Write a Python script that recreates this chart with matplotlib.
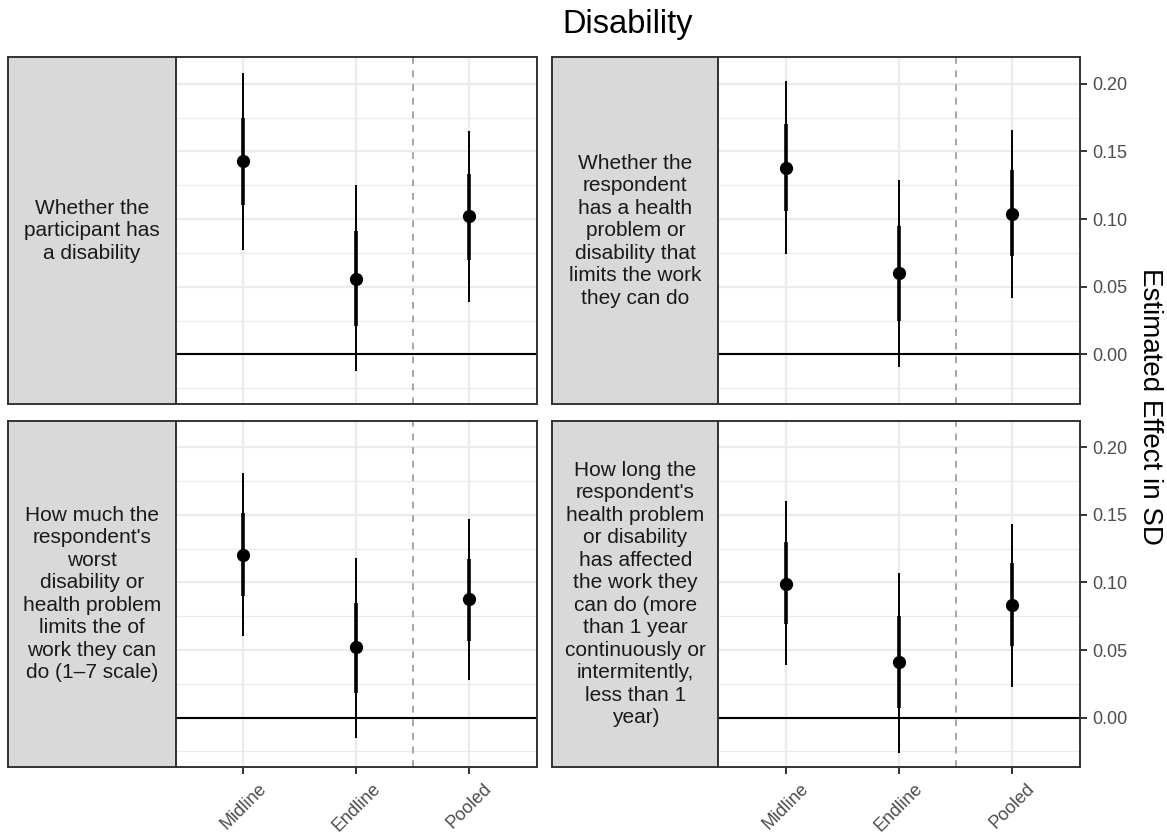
import matplotlib.pyplot as plt
import numpy as np

plt.rcParams['font.family'] = ['Liberation Sans', 'DejaVu Sans']

waves = ['Midline', 'Endline', 'Pooled']
outcomes = [
    'Whether the\nparticipant has\na disability',
    'Whether the\nrespondent\nhas a health\nproblem or\ndisability that\nlimits the work\nthey can do',
    "How much the\nrespondent's\nworst\ndisability or\nhealth problem\nlimits the of\nwork they can\ndo (1\u20137 scale)",
    "How long the\nrespondent's\nhealth problem\nor disability\nhas affected\nthe work they\ncan do (more\nthan 1 year\ncontinuously or\nintermitently,\nless than 1\nyear)",
]
# point estimates and intervals, one row per outcome (Midline, Endline, Pooled)
est = [[0.143, 0.056, 0.102],
       [0.138, 0.060, 0.104],
       [0.120, 0.052, 0.088],
       [0.099, 0.041, 0.083]]
lo95 = [[0.077, -0.012, 0.039],
        [0.074, -0.009, 0.042],
        [0.060, -0.015, 0.028],
        [0.039, -0.026, 0.023]]
hi95 = [[0.208, 0.125, 0.165],
        [0.202, 0.129, 0.166],
        [0.181, 0.118, 0.147],
        [0.160, 0.107, 0.143]]
lo90 = [[0.110, 0.021, 0.070],
        [0.106, 0.025, 0.073],
        [0.090, 0.018, 0.057],
        [0.069, 0.007, 0.053]]
hi90 = [[0.175, 0.091, 0.133],
        [0.170, 0.095, 0.136],
        [0.151, 0.085, 0.117],
        [0.130, 0.075, 0.114]]

W, H = 1167, 835
fig = plt.figure(figsize=(W / 100, H / 100), dpi=100)

def box(x0, x1, y0, y1):
    return [x0 / W, 1 - y1 / H, (x1 - x0) / W, (y1 - y0) / H]

cols = [(8.3, 175.7, 536.7), (552.3, 718.3, 1080)]
rows = [(57.3, 404), (420.7, 767.3)]
border = '#333333'
x = np.arange(1, 4)

for i in range(4):
    r, c = divmod(i, 2)
    sx0, px0, px1 = cols[c]
    y0, y1 = rows[r]

    # strip on the left
    sax = fig.add_axes(box(sx0, px0, y0, y1))
    sax.set_facecolor('#D9D9D9')
    sax.set_xticks([])
    sax.set_yticks([])
    for s in sax.spines.values():
        s.set_color(border)
        s.set_linewidth(1.4)
    sax.text(0.5, 0.5, outcomes[i], ha='center', va='center', fontsize=15,
             color='#1A1A1A', linespacing=1.23, transform=sax.transAxes)

    ax = fig.add_axes(box(px0, px1, y0, y1))
    ax.set_xlim(0.4, 3.6)
    ax.set_ylim(-0.0367, 0.2195)
    ax.set_xticks(x)
    ax.set_xticklabels(waves)
    ax.set_yticks([0, 0.05, 0.1, 0.15, 0.2])
    ax.set_yticklabels(['0.00', '0.05', '0.10', '0.15', '0.20'])
    ax.set_yticks([-0.025, 0.025, 0.075, 0.125, 0.175], minor=True)
    ax.set_axisbelow(True)
    ax.grid(which='major', color='#EBEBEB', lw=1.6)
    ax.grid(which='minor', axis='y', color='#EBEBEB', lw=0.9)
    ax.tick_params(which='minor', length=0)
    ax.tick_params(which='major', length=4.8, width=1.4, color=border,
                   labelcolor='#4D4D4D', labelsize=13)

    if c == 1:
        ax.yaxis.tick_right()
        ax.tick_params(axis='y', pad=4)
    else:
        ax.tick_params(axis='y', length=0, labelleft=False)
    if r == 0:
        ax.tick_params(axis='x', length=0, labelbottom=False)
    else:
        ax.tick_params(axis='x', pad=4.5)
        for lab in ax.get_xticklabels():
            lab.set_rotation(45)
            lab.set_ha('center')
            lab.set_va('top')

    ax.axhline(0, color='black', lw=1.5, zorder=2)
    ax.axvline(2.5, color='#A6A6A6', lw=1.4, ls=(0, (3.5, 3.5)), zorder=1.5)
    ax.vlines(x, lo95[i], hi95[i], color='black', lw=1.4, zorder=3)
    ax.vlines(x, lo90[i], hi90[i], color='black', lw=2.6, zorder=3)
    ax.plot(x, est[i], 'o', color='black', ms=8.5, zorder=4)
    for s in ax.spines.values():
        s.set_color(border)
        s.set_linewidth(1.4)
        s.set_zorder(5)

fig.text(628 / W, 1 - 25 / H, 'Disability', ha='center', va='center',
         fontsize=23.5, color='black')
fig.text(1150 / W, 1 - 406 / H, 'Estimated Effect in SD', ha='center',
         va='center', rotation=-90, fontsize=20, color='black')

fig.savefig('out.png', dpi=100)
